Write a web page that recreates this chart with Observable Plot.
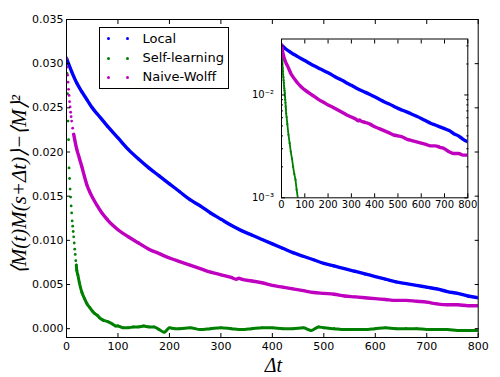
<!DOCTYPE html>
<html><head><meta charset="utf-8">
<script src="https://cdn.jsdelivr.net/npm/d3@7"></script>
<script src="https://cdn.jsdelivr.net/npm/@observablehq/plot@0.6"></script>
<style>
body{margin:0;background:#fff;}
#wrap{position:relative;width:500px;height:377px;font-family:"DejaVu Sans",sans-serif;}
#wrap svg{position:absolute;}
#legend{position:absolute;left:98.5px;top:27px;width:130px;height:62px;border:1px solid #000;background:#fff;box-sizing:border-box;}
.row{position:absolute;left:0;width:128px;height:16px;}
.lab{position:absolute;left:43px;top:0;font-size:13px;line-height:16px;color:#000;white-space:nowrap;}
.dot{position:absolute;width:3px;height:3px;border-radius:50%;top:6.5px;}
</style></head>
<body><div id="wrap"></div>
<script>
// ---- data ----
const seriesNames = ["Local", "Self-learning", "Naive-Wolff"];
const seriesColors = ["#0000ff", "#008000", "#bf00bf"];

const localT = [0,10,20,30,40,50,60,80,100,120,140,160,180,200,220,240,260,280,300,320,340,360,380,400,420,440,460,480,500,520,540,560,580,600,620,640,660,680,700,720,740,760,780,800];
const localV = [0.0306,0.0291,0.0278,0.0268,0.0259,0.0250,0.0243,0.0229,0.0216,0.0203,0.0192,0.0182,0.0173,0.0164,0.0155,0.0146,0.0139,0.0131,0.0124,0.0117,0.0111,0.0106,0.0101,0.0096,0.0091,0.0086,0.0082,0.0078,0.0074,0.0071,0.0068,0.0065,0.0062,0.0059,0.0056,0.0053,0.0051,0.0049,0.0047,0.0045,0.0042,0.0040,0.0037,0.0035];

const selfT = [0,1,2,3,4,5,6,7,8,9,10,11,12,13,14,15,16,17,18,19,20,22,25,30,35,40,45,50,55,60,65,70,80,90,95,100,110,120,130,140,150,160,170,180,190,200,210,220,240,260,280,300,320,340,360,380,400,420,440,460,475,490,500,520,540,560,580,600,620,640,660,680,700,720,740,760,780,800];
const selfV = [0.0306,0.0289,0.0266,0.0235,0.0214,0.0182,0.0170,0.0158,0.0149,0.0139,0.0131,0.0122,0.0116,0.0110,0.0104,0.0097,0.0090,0.0084,0.0077,0.0072,0.0066,0.0061,0.0052,0.0041,0.0034,0.0028,0.0024,0.0020,0.0017,0.0015,0.0012,0.0010,0.0008,0.0005,0.0003,0.0003,0.0001,0.0001,0.0002,0.0002,0.0003,0.0002,0.0002,-0.0001,-0.0004,0.0001,0.0000,0.0000,0.0001,-0.0001,0.0000,0.0001,0.0000,-0.0001,0.0000,0.0001,0.0001,0.0000,0.0000,0.0001,-0.0002,0.0002,0.0001,0.0000,-0.0001,-0.0001,-0.0001,0.0000,0.0001,0.0000,0.0000,0.0000,-0.0001,-0.0001,-0.0001,-0.0002,-0.0002,-0.0002];

const wolffT = [0,1,2,3,4,5,6,7,8,9,10,12,14,16,18,20,25,30,35,40,45,50,60,70,80,90,100,120,140,160,180,200,220,240,260,280,300,320,330,335,340,360,380,400,420,440,460,480,500,520,540,560,580,600,620,640,660,680,700,720,740,760,780,800];
const wolffV = [0.0306,0.0296,0.0287,0.0279,0.0271,0.0264,0.0257,0.0251,0.0245,0.0240,0.0235,0.0227,0.0220,0.0214,0.0208,0.0203,0.0193,0.0183,0.0172,0.0162,0.0155,0.0149,0.0139,0.0130,0.0123,0.0117,0.0112,0.0104,0.0097,0.0090,0.0085,0.0080,0.0076,0.0072,0.0068,0.0064,0.0061,0.0058,0.0056,0.0057,0.0056,0.0054,0.0052,0.0049,0.0047,0.0045,0.0043,0.0041,0.0040,0.0039,0.0037,0.0036,0.0035,0.0034,0.0033,0.0032,0.0032,0.0031,0.0030,0.0028,0.0027,0.0027,0.0026,0.0026];

const xTicks = [0,100,200,300,400,500,600,700,800];
const yTicks = [0.000,0.005,0.010,0.015,0.020,0.025,0.030,0.035];
const insetMajor = [0.001, 0.01];
const insetMinor = [0.002,0.003,0.004,0.005,0.006,0.007,0.008,0.009,0.02,0.03];
const yLabel = "⟨M(t)M(s+Δt)⟩−⟨M⟩²";
const xLabel = "Δt";

// ---- build ----
const rows = (t, v) => t.map((d, i) => ({t: d, v: v[i]}));
const local = rows(localT, localV);
const self = rows(selfT, selfV);
const wolff = rows(wolffT, wolffV);

const fmt3 = d3.format(".3f");
const blank = () => "";
const smooth = "monotone-x";

const main = Plot.plot({
  width: 500, height: 377,
  marginLeft: 66, marginRight: 22.3, marginTop: 19, marginBottom: 40,
  style: {fontFamily: "DejaVu Sans", fontSize: "11px", color: "#000", background: "white"},
  x: {domain: [0, 800], label: null},
  y: {domain: [-0.001, 0.035], label: null},
  marks: [
    Plot.line(local, {x: "t", y: "v", stroke: seriesColors[0], strokeWidth: 3.4, curve: smooth, clip: true}),
    Plot.dot(local, {x: "t", y: "v", fill: seriesColors[0], r: 1.5, clip: true}),
    Plot.line(self.filter(d => d.t >= 19), {x: "t", y: "v", stroke: seriesColors[1], strokeWidth: 3, curve: smooth, clip: true}),
    Plot.dot(self, {x: "t", y: "v", fill: seriesColors[1], r: 1.4, clip: true}),
    Plot.line(wolff.filter(d => d.t >= 14), {x: "t", y: "v", stroke: seriesColors[2], strokeWidth: 3.4, curve: smooth, clip: true}),
    Plot.dot(wolff, {x: "t", y: "v", fill: seriesColors[2], r: 1.4, clip: true}),
    Plot.frame({stroke: "#000", strokeWidth: 1}),
    Plot.axisX(xTicks, {anchor: "bottom", tickSize: -4, tickPadding: 8.5, tickFormat: d => String(d), label: null}),
    Plot.axisX(xTicks, {anchor: "top", tickSize: -4, tickFormat: blank, label: null}),
    Plot.axisY(yTicks, {anchor: "left", tickSize: -4, tickPadding: 7, tickFormat: fmt3, label: null}),
    Plot.axisY(yTicks, {anchor: "right", tickSize: -4, tickFormat: blank, label: null}),
    Plot.text([yLabel], {text: d => d, frameAnchor: "left", textAnchor: "middle", lineAnchor: "middle", rotate: -90, dx: -47, dy: 6, fontSize: 21, fontFamily: "Liberation Serif", fontStyle: "italic"}),
    Plot.text([xLabel], {text: d => d, frameAnchor: "bottom", textAnchor: "middle", lineAnchor: "middle", dx: 1, dy: 28, fontSize: 20, fontFamily: "Liberation Serif", fontStyle: "italic"})
  ]
});
main.style.left = "0px"; main.style.top = "0px";

const pos = d => d.v > 0;
const insetFmt = d => d === 0.01 ? "10⁻²" : "10⁻³";
const inset = Plot.plot({
  width: 240, height: 190,
  marginLeft: 41, marginRight: 12.7, marginTop: 10.5, marginBottom: 20.7,
  style: {fontFamily: "DejaVu Sans", fontSize: "10px", color: "#000", background: "transparent"},
  x: {domain: [0, 800], label: null},
  y: {type: "log", domain: [0.001, 0.035], label: null},
  marks: [
    Plot.frame({fill: "white", stroke: "none"}),
    Plot.line(local.filter(pos), {x: "t", y: "v", stroke: seriesColors[0], strokeWidth: 3.4, curve: smooth, clip: true}),
    Plot.line(self.filter(pos), {x: "t", y: "v", stroke: seriesColors[1], strokeWidth: 1.8, clip: true}),
    Plot.dot(self.filter(pos), {x: "t", y: "v", fill: seriesColors[1], r: 1.1, clip: true}),
    Plot.line(wolff.filter(pos), {x: "t", y: "v", stroke: seriesColors[2], strokeWidth: 3.4, curve: smooth, clip: true}),
    Plot.frame({stroke: "#000", strokeWidth: 1}),
    Plot.axisX(xTicks, {anchor: "bottom", tickSize: -4, tickPadding: 7.5, tickFormat: d => String(d), label: null}),
    Plot.axisX(xTicks, {anchor: "top", tickSize: -4, tickFormat: blank, label: null}),
    Plot.axisY(insetMajor, {anchor: "left", tickSize: -4, tickPadding: 11.5, tickFormat: insetFmt, label: null}),
    Plot.axisY(insetMinor, {anchor: "left", tickSize: -2, tickFormat: blank, label: null}),
    Plot.axisY(insetMajor, {anchor: "right", tickSize: -4, tickFormat: blank, label: null}),
    Plot.axisY(insetMinor, {anchor: "right", tickSize: -2, tickFormat: blank, label: null})
  ]
});
inset.style.left = "240px"; inset.style.top = "28px";

const wrap = document.getElementById("wrap");
wrap.appendChild(main);
wrap.appendChild(inset);

// legend
const legend = document.createElement("div");
legend.id = "legend";
const rowTops = [2.5, 22, 41];
seriesNames.forEach((name, i) => {
  const row = document.createElement("div");
  row.className = "row";
  row.style.top = rowTops[i] + "px";
  [7.5, 26.5].forEach(x => {
    const dot = document.createElement("span");
    dot.className = "dot";
    dot.style.left = x + "px";
    dot.style.background = seriesColors[i];
    row.appendChild(dot);
  });
  const lab = document.createElement("span");
  lab.className = "lab";
  lab.textContent = name;
  row.appendChild(lab);
  legend.appendChild(row);
});
wrap.appendChild(legend);
</script>
</body></html>
